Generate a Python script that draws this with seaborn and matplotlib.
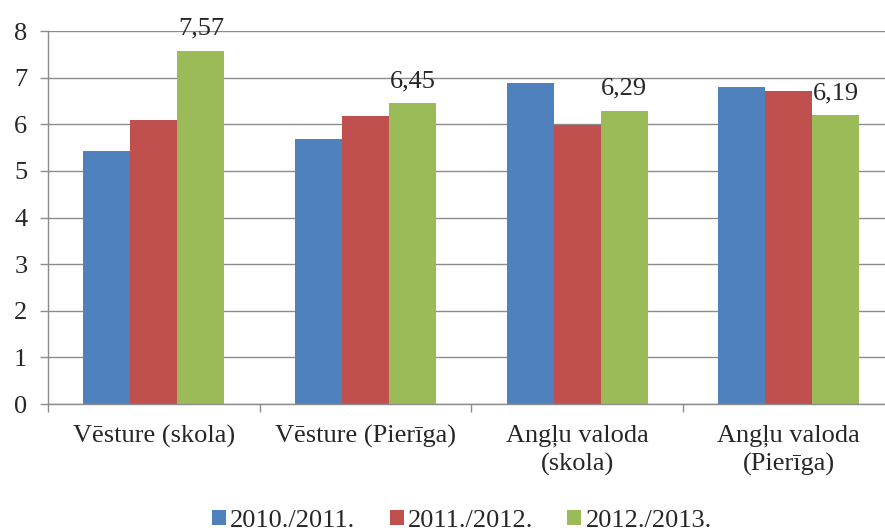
import pandas as pd
import seaborn as sns
import matplotlib.pyplot as plt

# Data
kategorijas = ["Vēsture (skola)", "Vēsture (Pierīga)", "Angļu valoda\n(skola)", "Angļu valoda\n(Pierīga)"]
gadi = ["2010./2011.", "2011./2012.", "2012./2013."]
v_2010 = [5.43, 5.68, 6.89, 6.80]
v_2011 = [6.09, 6.17, 5.99, 6.72]
v_2012 = [7.57, 6.45, 6.29, 6.19]
krasas = ["#4F81BD", "#C0504D", "#9BBB59"]

rows = []
for gads, vals in zip(gadi, [v_2010, v_2011, v_2012]):
    for kat, v in zip(kategorijas, vals):
        rows.append({"kategorija": kat, "gads": gads, "vertiba": v})
df = pd.DataFrame(rows)

sns.set_style("white")
plt.rcParams["font.family"] = ["Liberation Serif", "DejaVu Serif"]

fig = plt.figure(figsize=(8.85, 5.32), dpi=100)
ax = fig.add_axes([0.0542, 0.2406, 0.9566, 0.7011])

sns.barplot(data=df, x="kategorija", y="vertiba", hue="gads", palette=krasas,
            width=0.667, gap=0, saturation=1, linewidth=0, ax=ax)

grid_c = "#8C8C8C"
ax.set_xlim(-0.5, 3.5)
ax.set_ylim(0, 8)
ax.set_yticks(range(0, 9))
ax.yaxis.grid(True, color=grid_c, linewidth=1)
ax.set_axisbelow(True)
for s in ["top", "right"]:
    ax.spines[s].set_visible(False)
for s in ["left", "bottom"]:
    ax.spines[s].set_color(grid_c)
    ax.spines[s].set_linewidth(1)

ax.set_xlabel("")
ax.set_ylabel("")
ax.tick_params(axis="y", which="major", length=5.8, width=1, color=grid_c,
               pad=9, labelsize=19, left=True)
ax.tick_params(axis="x", which="major", length=0, pad=15, labelsize=19)
for t in ax.get_xticklabels():
    t.set_linespacing(1.3)
ax.set_xticks([-0.5, 0.5, 1.5, 2.5, 3.5], minor=True)
ax.tick_params(axis="x", which="minor", length=5.8, width=1, color=grid_c, bottom=True)

# value labels only on the last season
lbls = [f"{v:.2f}".replace(".", ",") for v in v_2012]
ax.bar_label(ax.containers[2], labels=lbls, padding=8, fontsize=19)

handles, labels = ax.get_legend_handles_labels()
ax.get_legend().remove()
fig.legend(handles, labels, loc="center", bbox_to_anchor=(462 / 885, 11 / 532),
           ncol=3, frameon=False, fontsize=19, handlelength=0.53, handleheight=0.53,
           handletextpad=0.15, columnspacing=1.3, borderpad=0)

plt.savefig("out.png", dpi=100)
